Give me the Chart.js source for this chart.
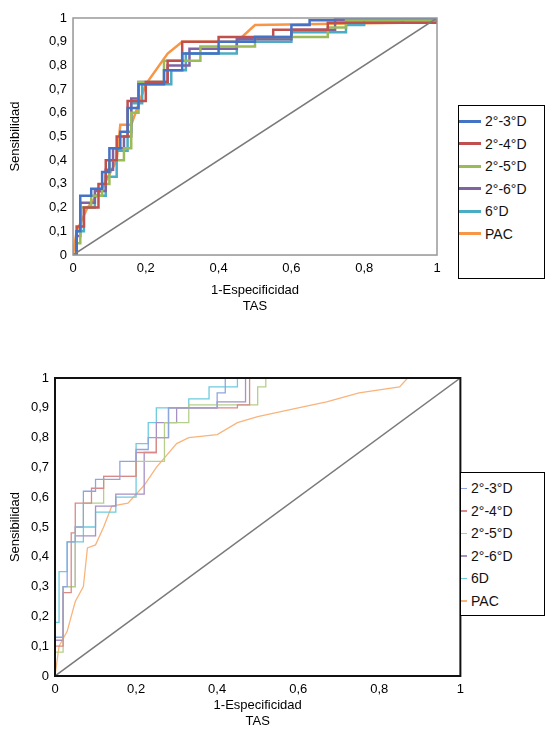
<!DOCTYPE html>
<html lang="es">
<head>
<meta charset="UTF-8" />
<title>Curvas ROC TAS</title>
<script src="https://cdn.jsdelivr.net/npm/chart.js"></script>
<style>
  body { margin: 0; background: white; font-family: 'Liberation Sans', Arial, sans-serif; }
  .wrap { position: absolute; }
  .legend { position: absolute; border: 1px solid #000; background: white; font-size: 14px; color: #111; }
  .legend div { display: flex; align-items: center; height: 22.5px; }
  .legend span.ln { display: inline-block; margin-right: 4px; }
</style>
</head>
<body>
<div class="wrap" style="left:0;top:0;width:450px;height:320px"><canvas id="chartTop"></canvas></div>
<div class="wrap" style="left:0;top:360px;width:470px;height:375px"><canvas id="chartBottom"></canvas></div>
<div class="legend" id="legTop" style="left:458px;top:105px;width:85px;height:168px;padding-top:4px"></div>
<div class="legend" id="legBottom" style="left:460px;top:472px;width:83px;height:138px;padding-top:4px"></div>
<script>
  const seriesNamesTop = ["2°-3°D", "2°-4°D", "2°-5°D", "2°-6°D", "6°D", "PAC"];
  const seriesNamesBottom = ["2°-3°D", "2°-4°D", "2°-5°D", "2°-6°D", "6D", "PAC"];
  const colors = ["#4472C4", "#C0504D", "#9BBB59", "#8064A2", "#4BACC6", "#F79646"];
  const colorsBottom = ["#8EA6E0", "#D98A88", "#B5CF8A", "#A690C4", "#6ECBE0", "#F9B47C"];
  const tickValues = [0, 0.1, 0.2, 0.3, 0.4, 0.5, 0.6, 0.7, 0.8, 0.9, 1];
  const diagonal = [[0, 0], [1, 1]];

  // Panel superior: TAS
  const top23 = [[0,0],[0.01,0.1],[0.02,0.25],[0.05,0.28],[0.08,0.35],[0.1,0.45],[0.13,0.52],[0.15,0.62],[0.18,0.72],[0.25,0.78],[0.3,0.85],[0.4,0.9],[0.5,0.92],[0.6,0.97],[0.65,0.99],[0.72,1],[1,1]];
  const top24 = [[0,0],[0.01,0.12],[0.03,0.2],[0.07,0.3],[0.09,0.4],[0.12,0.5],[0.15,0.65],[0.2,0.73],[0.26,0.82],[0.3,0.9],[0.4,0.92],[0.55,0.95],[0.7,0.98],[1,1]];
  const top25 = [[0,0],[0.01,0.05],[0.02,0.2],[0.05,0.25],[0.08,0.3],[0.1,0.4],[0.14,0.45],[0.16,0.6],[0.18,0.73],[0.25,0.82],[0.35,0.88],[0.5,0.92],[0.7,0.96],[0.75,0.99],[1,1]];
  const top26 = [[0,0],[0.01,0.08],[0.02,0.22],[0.06,0.27],[0.09,0.36],[0.11,0.45],[0.14,0.5],[0.16,0.66],[0.18,0.73],[0.26,0.8],[0.32,0.87],[0.45,0.91],[0.6,0.95],[0.72,0.99],[1,1]];
  const top6 = [[0,0],[0.01,0.1],[0.03,0.2],[0.06,0.25],[0.09,0.33],[0.12,0.44],[0.15,0.52],[0.16,0.64],[0.19,0.72],[0.27,0.78],[0.31,0.85],[0.45,0.9],[0.6,0.94],[0.75,0.97],[0.8,1],[1,1]];
  const topPAC = [[0,0],[0.01,0.1],[0.04,0.2],[0.08,0.28],[0.12,0.4],[0.13,0.55],[0.16,0.55],[0.2,0.72],[0.26,0.85],[0.3,0.9],[0.45,0.9],[0.5,0.97],[0.9,0.98],[0.92,1],[1,1]];

  // Panel inferior
  const bot23 = [[0,0],[0,0.13],[0.02,0.3],[0.03,0.45],[0.05,0.5],[0.07,0.62],[0.1,0.66],[0.16,0.72],[0.2,0.76],[0.23,0.8],[0.28,0.9],[0.35,0.9],[0.4,0.95],[0.42,1],[1,1]];
  const bot24 = [[0,0],[0,0.1],[0.02,0.28],[0.04,0.48],[0.05,0.58],[0.09,0.63],[0.12,0.67],[0.2,0.75],[0.25,0.8],[0.28,0.9],[0.45,0.91],[0.48,1],[1,1]];
  const bot25 = [[0,0],[0,0.08],[0.02,0.3],[0.05,0.5],[0.07,0.58],[0.12,0.67],[0.2,0.72],[0.27,0.85],[0.33,0.91],[0.5,0.97],[0.52,1],[1,1]];
  const bot26 = [[0,0],[0,0.12],[0.02,0.3],[0.05,0.47],[0.1,0.57],[0.15,0.61],[0.22,0.75],[0.25,0.85],[0.3,0.9],[0.4,0.92],[0.47,1],[1,1]];
  const bot6 = [[0,0],[0,0.18],[0.01,0.35],[0.03,0.45],[0.07,0.5],[0.1,0.55],[0.15,0.6],[0.2,0.78],[0.23,0.85],[0.25,0.9],[0.33,0.93],[0.38,0.97],[0.45,1],[1,1]];
  const botPAC = [[0,0],[0.01,0.1],[0.03,0.15],[0.05,0.25],[0.07,0.3],[0.08,0.43],[0.1,0.44],[0.12,0.5],[0.14,0.57],[0.18,0.58],[0.22,0.64],[0.25,0.7],[0.3,0.78],[0.33,0.8],[0.4,0.81],[0.45,0.85],[0.5,0.87],[0.6,0.9],[0.67,0.92],[0.75,0.95],[0.85,0.97],[0.87,1],[1,1]];

  const toXY = arr => arr.map(p => ({ x: p[0], y: p[1] }));
  const fmt = v => String(Math.round(v * 10) / 10).replace('.', ',');

  const framePlugin = {
    id: 'frame',
    afterDatasetsDraw(chart, args, opts) {
      const a = chart.chartArea, c = chart.ctx;
      c.save();
      c.strokeStyle = opts.color;
      c.lineWidth = opts.width;
      c.strokeRect(a.left, a.top, a.right - a.left, a.bottom - a.top);
      c.restore();
    }
  };

  function makeChart(id, curves, cols, width, pad, yw, xh, frameColor, frameWidth) {
    const datasets = curves.map((d, i) => ({
      data: toXY(d), borderColor: cols[i], borderWidth: width,
      showLine: true, pointRadius: 0, tension: 0, fill: false,
      stepped: i < 5 ? 'before' : false
    }));
    datasets.unshift({ data: toXY(diagonal), borderColor: '#7a7a7a', borderWidth: 1.5, showLine: true, pointRadius: 0 });
    return new Chart(document.getElementById(id), {
      type: 'scatter',
      data: { datasets },
      plugins: [framePlugin],
      options: {
        responsive: true, maintainAspectRatio: false, animation: false,
        layout: { padding: pad },
        plugins: { legend: { display: false }, tooltip: { enabled: false },
          frame: { color: frameColor, width: frameWidth } },
        scales: {
          x: {
            min: 0, max: 1,
            afterBuildTicks: s => { s.ticks = [0, 0.2, 0.4, 0.6, 0.8, 1].map(v => ({ value: v })); },
            afterFit: s => { s.height = xh; },
            ticks: { callback: fmt, color: '#000', font: { size: 13, family: 'Liberation Sans' }, maxRotation: 0, padding: 6 },
            grid: { display: false, drawTicks: false },
            title: { display: true, text: ['1-Especificidad', 'TAS'], color: '#000', font: { size: 13, family: 'Liberation Sans' }, padding: { top: 0, bottom: 6 } }
          },
          y: {
            min: 0, max: 1,
            afterBuildTicks: s => { s.ticks = tickValues.map(v => ({ value: v })); },
            afterFit: s => { s.width = yw; },
            ticks: { callback: fmt, color: '#000', font: { size: 13, family: 'Liberation Sans' }, padding: 6 },
            grid: { display: false, drawTicks: false },
            title: { display: true, text: 'Sensibilidad', color: '#000', font: { size: 13, family: 'Liberation Sans' }, padding: { top: 8, bottom: 0 } }
          }
        }
      }
    });
  }

  makeChart('chartTop', [top23, top24, top25, top26, top6, topPAC], colors, 2.5, { top: 18, right: 13, left: 0, bottom: 0 }, 73, 65, '#999', 1.5);
  makeChart('chartBottom', [bot23, bot24, bot25, bot26, bot6, botPAC], colorsBottom, 1.3, { top: 18, right: 9, left: 0, bottom: 0 }, 55, 59, '#111', 2);

  function buildLegend(id, names, cols, lw, len) {
    const el = document.getElementById(id);
    names.forEach((n, i) => {
      const row = document.createElement('div');
      row.innerHTML = `<span class="ln" style="width:${len}px;height:${lw}px;background:${cols[i]}"></span>${n}`;
      el.appendChild(row);
    });
  }
  buildLegend('legTop', seriesNamesTop, colors, 3, 22);
  buildLegend('legBottom', seriesNamesBottom, colorsBottom, 1.5, 6);
</script>
</body>
</html>
